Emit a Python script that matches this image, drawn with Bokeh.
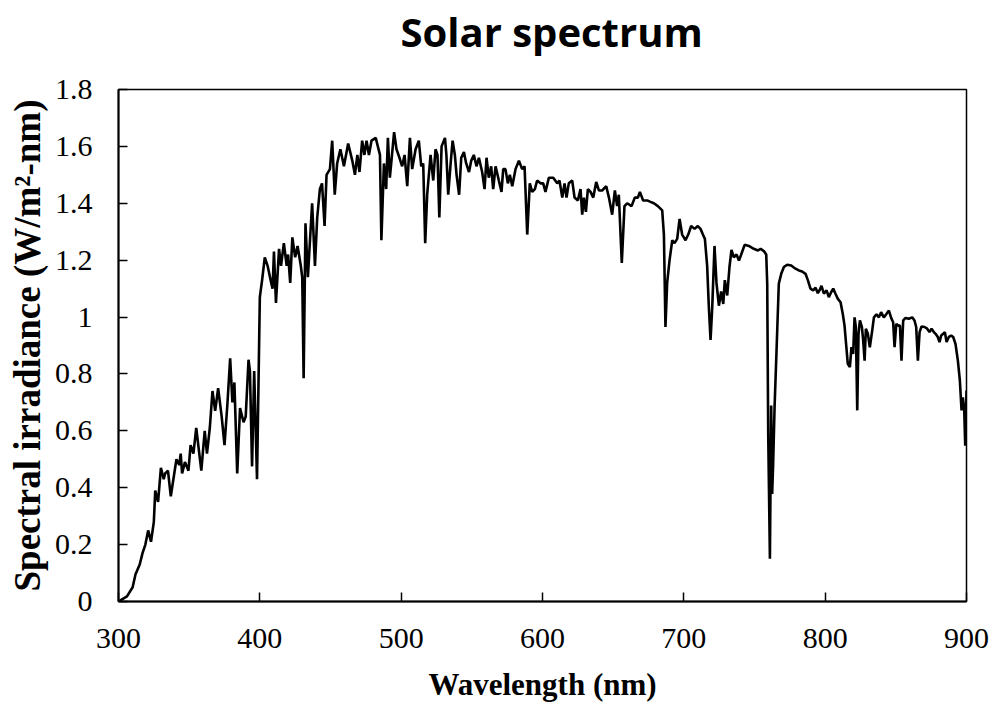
from bokeh.plotting import figure
from bokeh.models import Range1d, FixedTicker, Title
from bokeh.embed import file_html
from bokeh.resources import INLINE

# Solar spectral irradiance samples (wavelength in nm, irradiance in W/m^2-nm)
wavelength = [
    300, 306, 310, 312, 315, 317, 319, 321, 323, 325, 326, 328, 330, 332, 333, 335,
    337, 341, 343, 344, 345, 347, 349.5, 351, 353, 355, 358.6, 361, 362.6, 364.6,
    366.5, 368.4, 370.5, 373, 375, 377, 379, 380.6, 382, 384, 386, 388.5, 390, 392,
    393, 394.5, 396, 398, 400, 401.6, 403.5, 405.5, 407.6, 409, 410, 411.4, 413.6,
    415, 417, 419, 420, 421.5, 423, 425, 426.7, 429, 430, 431,
    432.3, 434, 437, 439, 440.6, 442.5, 444, 445.8, 447.2, 449.6, 451.2, 453, 454.7,
    457, 459.5, 462.5, 465.4, 467.3, 469, 470.5, 472.4, 474, 475.5, 477.2, 479, 482,
    485, 486, 487.8, 489.4, 490.6, 492, 493.7, 495, 496.7, 498.8, 500.7, 502.4,
    504.3, 506.2, 507.8, 510.2, 512.5, 514.2, 515.6, 517, 518.4, 520.8, 522.7,
    524.3, 525.7, 527, 528.6, 531, 532, 533.3, 535, 536.4, 538, 539.2, 541, 542.5,
    544.4, 546, 548, 549.6, 551.4, 553.3, 555, 557.3, 559, 560.4, 562, 563.7, 565.1,
    566.8, 569.1,
    571, 572.2, 573.8, 575.5, 576.9, 578.6, 580.9, 583.3, 585.6, 587.3, 589.2, 591,
    592.7, 594.6, 596.2, 598.6, 600.5, 602.1, 604.5, 607.6, 610.4, 612, 614, 615.6,
    617, 618.6, 621, 622.7, 625, 626.9, 628.1, 629.3, 630.7, 632.1, 634, 635.9, 638,
    639.9, 642.2, 645.1, 647, 649.3, 651.2, 652.8, 654, 656.1, 658, 659.9, 663,
    665.3, 667.5, 668.9, 671.2, 674.1, 676.4, 678.8, 681.6, 684.7, 685.9, 687,
    688.2, 689.9, 691.8, 693.4, 695.3, 697, 698.8, 701.2, 703.1, 705.2, 707.6,
    709.9, 711.8, 713.5, 714.9, 716.5, 717.7, 718.9, 720.1, 721.7, 723.1, 724.8,
    726.4, 727.9, 729, 730.7, 732.3, 733.7, 735.4, 737.3, 739, 740.6, 743, 746,
    749.5, 752.4, 754.3, 756.6, 758.3, 759, 759.7, 760.9, 761.8, 762.5, 763.2,
    764.2, 765.6, 767.2, 768.9, 770.8, 773.1, 776, 779, 781.4, 783.7, 786.1, 787.8,
    789.6, 791.5, 793.2, 794.8, 796.2, 797.4, 799.1, 801, 802.6, 804.3, 805.7,
    807.3, 809, 810.9, 812.5, 813.7, 814.9, 816, 817.5, 818.6, 819.8, 820.8, 821.7,
    822.7, 823.6, 824.6, 826, 826.9, 827.9, 828.8, 830.2, 831.6, 833.3, 834.5,
    836.3, 838, 839.6, 841.5, 843.2, 845.1, 846.7, 848.1, 849.1, 850.3, 851.7,
    852.9, 854, 855.2, 856.9, 859.2, 861.6, 863.2, 864.4, 865.6, 866.8, 868.2,
    870.3, 872.2, 873.8, 875.3, 876.9, 878.1, 879.7, 880.9, 882.1, 883.5, 884.7,
    885.9, 887.5, 889.2, 890.6, 892.2, 893.9, 895.3, 896.5, 897.4, 898.4, 899.1,
    900,
]
irradiance = [
    0.0, 0.018, 0.05, 0.095, 0.13, 0.17, 0.20, 0.25, 0.21, 0.28, 0.39, 0.35, 0.47,
    0.43, 0.45, 0.46, 0.37, 0.50, 0.48, 0.52, 0.45, 0.49, 0.46, 0.55, 0.52, 0.61,
    0.46, 0.60, 0.52, 0.61, 0.74, 0.67, 0.75, 0.65, 0.55, 0.69, 0.855, 0.70, 0.77,
    0.45, 0.68, 0.63, 0.65, 0.85, 0.81, 0.475, 0.81, 0.43, 1.07, 1.13, 1.21, 1.18,
    1.13, 1.10, 1.23, 1.05, 1.24, 1.18, 1.26, 1.18, 1.22, 1.12, 1.28, 1.21, 1.25,
    1.18, 1.14, 0.785,
    1.33, 1.14, 1.40, 1.18, 1.35, 1.45, 1.47, 1.32, 1.50, 1.52, 1.62, 1.43, 1.54,
    1.59, 1.53, 1.61, 1.55, 1.50, 1.57, 1.51, 1.62, 1.57, 1.62, 1.57, 1.62, 1.63,
    1.57, 1.27, 1.54, 1.45, 1.63, 1.49, 1.58, 1.65, 1.59, 1.56, 1.53, 1.57, 1.46,
    1.63, 1.52, 1.59, 1.62, 1.53, 1.54, 1.26, 1.43, 1.57, 1.48, 1.59, 1.57, 1.35,
    1.60, 1.63, 1.57, 1.43, 1.54, 1.62, 1.57, 1.50, 1.43, 1.56, 1.58, 1.54, 1.51,
    1.55, 1.57, 1.53, 1.56, 1.51, 1.45, 1.56, 1.49, 1.53, 1.45, 1.53, 1.48,
    1.44, 1.52, 1.52, 1.47, 1.50, 1.46, 1.52, 1.55, 1.52, 1.53, 1.29, 1.47, 1.44,
    1.45, 1.48, 1.47, 1.47, 1.44, 1.49, 1.49, 1.47, 1.48, 1.42, 1.47, 1.42, 1.47,
    1.48, 1.42, 1.41, 1.45, 1.36, 1.42, 1.37, 1.45, 1.44, 1.42, 1.475, 1.445,
    1.445, 1.46, 1.42, 1.36, 1.445, 1.39, 1.43, 1.19, 1.39, 1.40, 1.39, 1.42, 1.42,
    1.44, 1.41, 1.41, 1.405, 1.40, 1.39, 1.375, 1.29, 0.965, 1.12, 1.20, 1.27, 1.26,
    1.275, 1.345, 1.29, 1.27, 1.29, 1.32, 1.31, 1.32, 1.31, 1.29, 1.275, 1.18,
    1.035, 0.92, 1.035, 1.25, 1.12, 1.04, 1.09, 1.046, 1.13, 1.076, 1.176, 1.236,
    1.21, 1.22, 1.199, 1.22, 1.254, 1.25, 1.24, 1.234, 1.24, 1.232, 1.22, 1.117,
    0.59, 0.15, 0.689, 0.378, 0.484, 0.683, 0.883, 1.117, 1.152, 1.176, 1.184,
    1.181, 1.17, 1.164, 1.16, 1.152, 1.129, 1.10, 1.094, 1.103, 1.084, 1.096, 1.11,
    1.082, 1.094, 1.07, 1.088, 1.10, 1.082, 1.064, 1.052, 1.01, 0.97, 0.90, 0.836,
    0.824, 0.894, 0.87, 0.999, 0.965, 0.672, 0.941, 0.988, 0.965, 0.918, 0.847,
    0.959, 0.941, 0.894, 0.953, 0.999, 1.01, 0.999, 1.017, 0.999, 1.01, 1.023,
    0.997, 0.982, 0.894, 0.976, 0.97, 0.97, 0.847, 0.988, 0.997, 0.994, 0.999,
    0.988, 0.965, 0.847, 0.947, 0.967, 0.965, 0.959, 0.947, 0.959, 0.947, 0.941,
    0.93, 0.912, 0.935, 0.941, 0.947, 0.912, 0.93, 0.935, 0.93, 0.906, 0.847,
    0.777, 0.672, 0.718, 0.672, 0.548, 0.742,
]

x_ticks = [300, 400, 500, 600, 700, 800, 900]
y_ticks = [0, 0.2, 0.4, 0.6, 0.8, 1.0, 1.2, 1.4, 1.6, 1.8]
y_tick_labels = ["0", "0.2", "0.4", "0.6", "0.8", "1", "1.2", "1.4", "1.6", "1.8"]

SERIF = "Liberation Serif"

p = figure(
    width=996, height=704,
    output_backend="svg", toolbar_location=None,
    x_range=Range1d(300, 900), y_range=Range1d(0, 1.8),
    min_border_left=118, min_border_right=30,
    min_border_top=89, min_border_bottom=103,
)
p.background_fill_color = "white"
p.border_fill_color = "white"
p.outline_line_color = "black"
p.outline_line_width = 1.5
p.grid.visible = False

# Blank white spacer panel next to the frame, with the heading stacked above it
p.add_layout(Title(text=" ", text_font_size="12px", text_color="white", standoff=15), "above")
p.add_layout(Title(
    text="Solar spectrum", align="left", offset=282, standoff=0,
    text_font="Open Sans", text_font_style="bold", text_font_size="40px",
    text_color="black",
), "above")

p.line(wavelength, irradiance, line_color="black", line_width=2.6)

for ax in (p.xaxis[0], p.yaxis[0]):
    ax.axis_line_color = "black"
    ax.axis_line_width = 2
    ax.major_tick_in = 9
    ax.major_tick_out = 0
    ax.major_tick_line_width = 1.5
    ax.major_tick_line_color = "black"
    ax.minor_tick_line_color = None
    ax.major_label_text_font = SERIF
    ax.major_label_text_font_size = "30px"
    ax.major_label_text_color = "black"
    ax.axis_label_text_font = SERIF
    ax.axis_label_text_font_style = "bold"
    ax.axis_label_text_color = "black"

p.xaxis.ticker = FixedTicker(ticks=x_ticks)
p.yaxis.ticker = FixedTicker(ticks=y_ticks)
p.yaxis.major_label_overrides = dict(zip(y_ticks, y_tick_labels))

p.xaxis.axis_label = "Wavelength (nm)"
p.xaxis.axis_label_text_font_size = "31px"
p.yaxis.axis_label = "Spectral irradiance (W/m²-nm)"
p.yaxis.axis_label_text_font_size = "37px"
p.xaxis.major_label_standoff = 27
p.yaxis.major_label_standoff = 26
p.xaxis.axis_label_standoff = 16
p.yaxis.axis_label_standoff = 4

open("out.html", "w").write(file_html(p, INLINE))
